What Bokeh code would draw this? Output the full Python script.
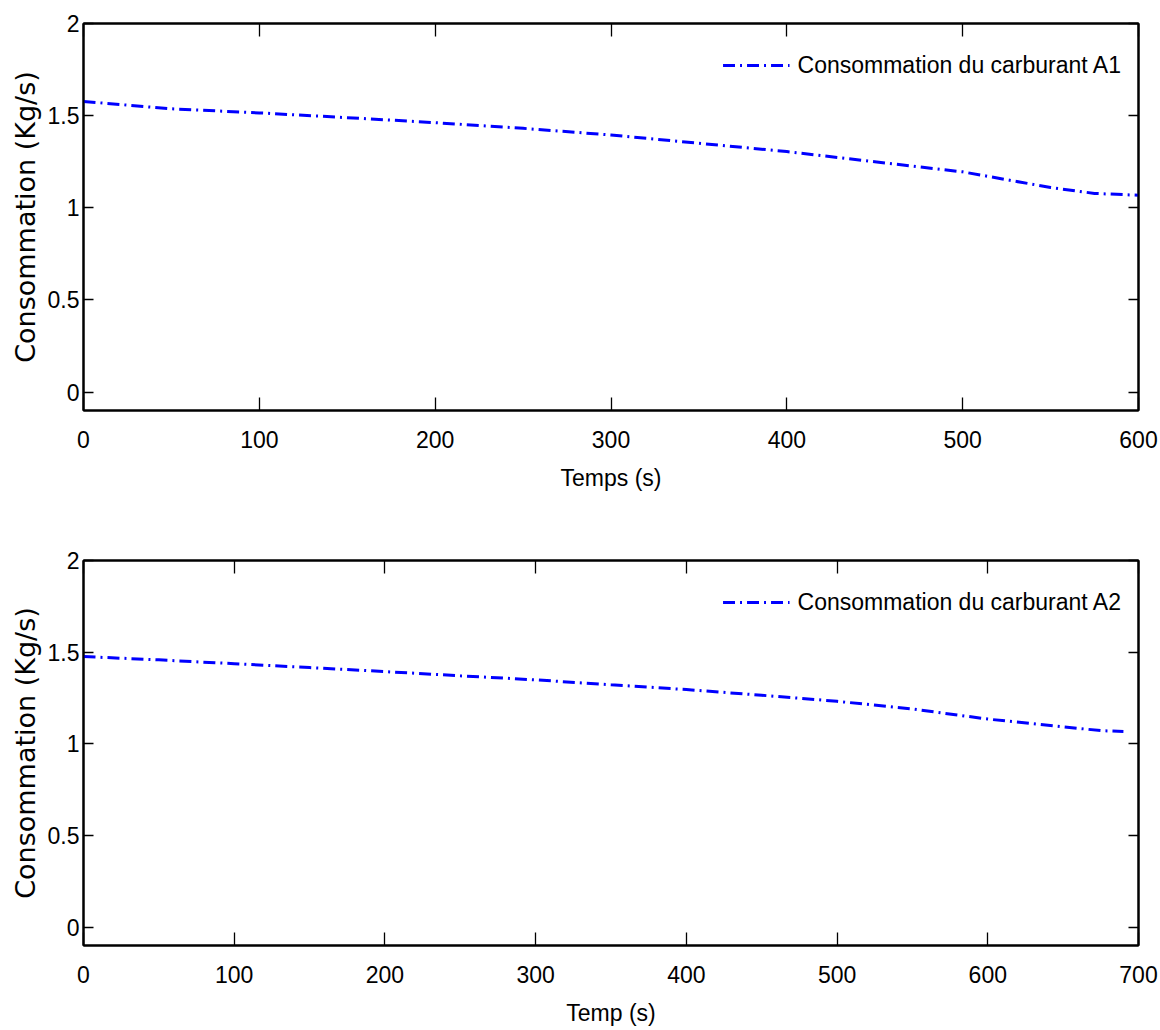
from bokeh.plotting import figure
from bokeh.models import (LinearAxis, FixedTicker, CustomJSTickFormatter, Range1d,
                          Legend, LegendItem)
from bokeh.layouts import column
from bokeh.embed import file_html
from bokeh.resources import INLINE

# ---------------- data ----------------
time_a1 = [0, 50, 100, 150, 200, 250, 300, 350, 400, 450, 500, 550, 575, 600]
conso_a1 = [1.577, 1.537, 1.515, 1.489, 1.462, 1.431, 1.395, 1.350, 1.305,
            1.250, 1.195, 1.110, 1.078, 1.068]

time_a2 = [0, 50, 100, 150, 200, 250, 300, 350, 400, 450, 500, 550, 600,
           650, 675, 690]
conso_a2 = [1.476, 1.458, 1.437, 1.416, 1.394, 1.371, 1.349, 1.322, 1.296,
            1.265, 1.232, 1.190, 1.135, 1.093, 1.072, 1.067]

y_ticks = [0, 0.5, 1, 1.5, 2]
y_tick_labels = ["0", "0.5", "1", "1.5", "2"]
x_ticks_a1 = [0, 100, 200, 300, 400, 500, 600]
x_ticks_a2 = [0, 100, 200, 300, 400, 500, 600, 700]

legend_a1 = "Consommation du carburant A1"
legend_a2 = "Consommation du carburant A2"
xlabel_a1 = "Temps (s)"
xlabel_a2 = "Temp (s)"
ylabel = "Consommation (Kg/s)"

SANS = "Liberation Sans"
WIDE = "DejaVu Sans"
FS = "23px"


def label_formatter(vals, labels):
    return CustomJSTickFormatter(
        args=dict(tvals=vals, tlabels=labels),
        code="const i = tvals.indexOf(tick); return i >= 0 ? tlabels[i] : String(tick);")


def blank_formatter():
    return CustomJSTickFormatter(code="return '';")


def style_axis(ax, tick_len):
    ax.axis_line_color = "black"
    ax.axis_line_width = 2
    ax.major_tick_line_color = "black"
    ax.major_tick_line_width = 1.3
    ax.major_tick_in = tick_len
    ax.major_tick_out = 0
    ax.minor_tick_line_color = None
    ax.major_label_text_font = SANS
    ax.major_label_text_font_size = FS
    ax.major_label_text_color = "black"


def make_panel(xs, ys, xmax, xticks, xlabel, leg, height, border_top, border_bottom):
    p = figure(width=1160, height=height, output_backend="svg",
               toolbar_location=None,
               x_range=Range1d(0, xmax), y_range=Range1d(-0.1, 2),
               min_border_left=83, min_border_right=22,
               min_border_top=border_top, min_border_bottom=border_bottom,
               x_axis_location=None, y_axis_location=None)
    p.xgrid.visible = False
    p.ygrid.visible = False
    p.outline_line_color = "black"
    p.outline_line_width = 2
    p.background_fill_color = "white"
    p.border_fill_color = "white"

    # bottom axis
    xb = LinearAxis(ticker=FixedTicker(ticks=xticks),
                    formatter=label_formatter(xticks, [str(t) for t in xticks]))
    style_axis(xb, 13)
    xb.major_label_standoff = 20
    xb.axis_label = xlabel
    xb.axis_label_text_font = SANS
    xb.axis_label_text_font_size = FS
    xb.axis_label_text_font_style = "normal"
    xb.axis_label_text_color = "black"
    xb.axis_label_standoff = 14
    p.add_layout(xb, "below")

    # top mirror axis
    xt = LinearAxis(ticker=FixedTicker(ticks=xticks), formatter=blank_formatter())
    style_axis(xt, 13)
    xt.major_label_text_font_size = "0px"
    xt.major_label_standoff = 0
    p.add_layout(xt, "above")

    # left axis
    yl = LinearAxis(ticker=FixedTicker(ticks=y_ticks),
                    formatter=label_formatter(y_ticks, y_tick_labels))
    style_axis(yl, 10)
    yl.major_label_standoff = 4
    yl.axis_label = ylabel
    yl.axis_label_text_font = WIDE
    yl.axis_label_text_font_size = "27px"
    yl.axis_label_text_font_style = "normal"
    yl.axis_label_text_color = "black"
    yl.axis_label_standoff = 4
    p.add_layout(yl, "left")

    # right mirror axis
    yr = LinearAxis(ticker=FixedTicker(ticks=y_ticks), formatter=blank_formatter())
    style_axis(yr, 10)
    yr.major_label_text_font_size = "0px"
    yr.major_label_standoff = 0
    p.add_layout(yr, "right")

    r = p.line(xs, ys, line_color="#0000FF", line_width=3, line_dash="12 5 2 5")

    legend = Legend(items=[LegendItem(label=leg, renderers=[r])],
                    location="top_right")
    legend.border_line_color = None
    legend.background_fill_alpha = 0
    legend.margin = 17
    legend.padding = 7
    legend.glyph_width = 67
    legend.glyph_height = 50
    legend.label_height = 50
    legend.label_standoff = 8
    legend.label_text_font = SANS
    legend.label_text_font_size = FS
    legend.label_text_color = "black"
    p.add_layout(legend)
    return p


p1 = make_panel(time_a1, conso_a1, 600, x_ticks_a1, xlabel_a1, legend_a1, 545, 23, 135)
p2 = make_panel(time_a2, conso_a2, 700, x_ticks_a2, xlabel_a2, legend_a2, 483, 15, 81)

layout = column(p1, p2, spacing=0)
open("out.html", "w").write(file_html(layout, INLINE))
